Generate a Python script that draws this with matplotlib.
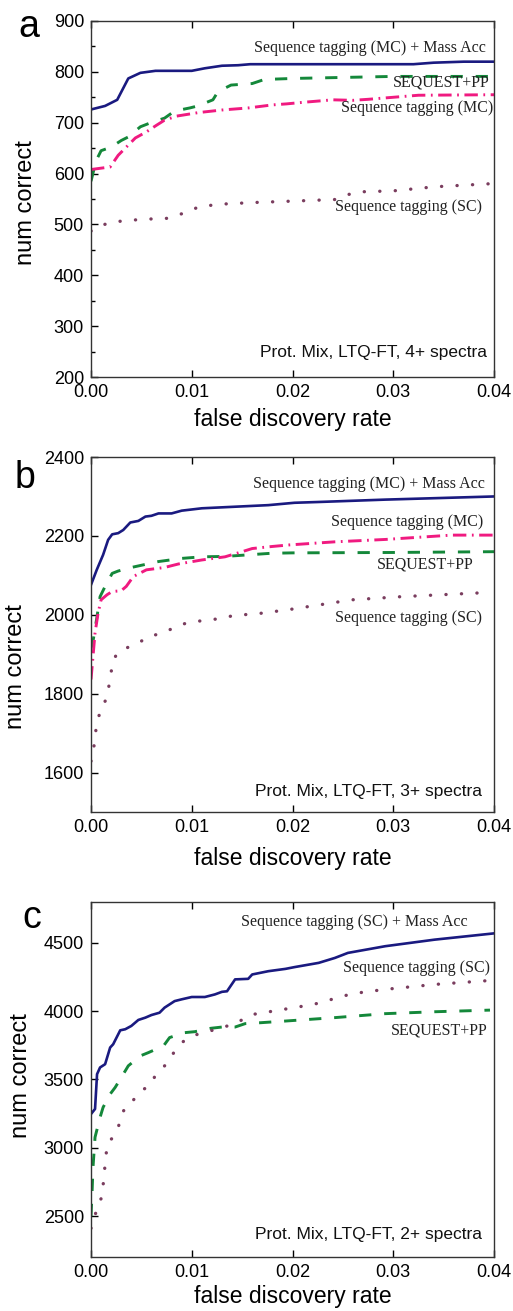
import matplotlib
matplotlib.use('Agg')
import matplotlib.pyplot as plt
from matplotlib.ticker import MultipleLocator

plt.rcParams['font.family'] = 'Liberation Sans'

# colours used in all three panels
NAVY = '#1a1a80'
GREEN = '#14883a'
PINK = '#f01a80'
PLUM = '#7a3d5e'

# --- panel a: 4+ spectra
a_blue_x = [0, 0.0014, 0.0026, 0.0037, 0.0049, 0.0064, 0.0100, 0.0113, 0.0130, 0.0146, 0.0158, 0.0250, 0.0320, 0.0340, 0.0370, 0.0400]
a_blue_y = [726, 733, 745, 787, 798, 802, 802, 807, 812, 813, 815, 815, 815, 818, 820, 820]
a_green_x = [0, 0.0005, 0.0010, 0.0020, 0.0030, 0.0037, 0.0049, 0.0058, 0.0073, 0.0083, 0.0098, 0.0106, 0.0121, 0.0126, 0.0139, 0.0160, 0.0172, 0.0200, 0.0250, 0.0300, 0.0400]
a_green_y = [585, 625, 645, 652, 665, 672, 692, 699, 709, 723, 729, 733, 745, 761, 774, 777, 785, 787, 789, 791, 791]
a_pink_x = [0, 0.0019, 0.0027, 0.0037, 0.0044, 0.0055, 0.0065, 0.0073, 0.0085, 0.0107, 0.0130, 0.0156, 0.0180, 0.0194, 0.0210, 0.0240, 0.0260, 0.0275, 0.0300, 0.0325, 0.0400]
a_pink_y = [608, 613, 636, 656, 670, 682, 695, 705, 713, 720, 725, 729, 735, 737, 740, 745, 744, 746, 750, 754, 755]
a_dot_x = [0, 0.0010, 0.0022, 0.0050, 0.0075, 0.0085, 0.0097, 0.0107, 0.0130, 0.0160, 0.0202, 0.0242, 0.0254, 0.0265, 0.0300, 0.0341, 0.0396]
a_dot_y = [487, 498, 505, 510, 512, 518, 525, 535, 540, 543, 546, 549, 558, 564, 566, 574, 580]

# --- panel b: 3+ spectra
b_blue_x = [0, 0.00057, 0.0012, 0.0017, 0.0021, 0.0027, 0.0032, 0.0039, 0.0047, 0.0054, 0.0060, 0.0067, 0.0080, 0.0090, 0.0110, 0.0143, 0.0176, 0.0202, 0.0226, 0.0292, 0.0400]
b_blue_y = [2076, 2114, 2152, 2190, 2204, 2207, 2215, 2234, 2238, 2249, 2251, 2257, 2257, 2264, 2270, 2274, 2278, 2284, 2286, 2292, 2300]
b_green_x = [0, 0.0002, 0.0006, 0.0009, 0.0014, 0.0021, 0.0027, 0.0040, 0.0067, 0.0090, 0.0110, 0.0133, 0.0156, 0.0179, 0.0200, 0.0300, 0.0400]
b_green_y = [1915, 1933, 1996, 2046, 2072, 2105, 2111, 2120, 2135, 2143, 2147, 2148, 2152, 2156, 2157, 2158, 2160]
b_pink_x = [0, 0.0002, 0.0004, 0.0007, 0.0010, 0.0016, 0.0021, 0.0030, 0.0035, 0.0042, 0.0055, 0.0073, 0.0087, 0.0110, 0.0133, 0.0150, 0.0160, 0.0179, 0.0196, 0.0242, 0.0292, 0.0358, 0.0400]
b_pink_y = [1836, 1895, 1954, 2004, 2038, 2051, 2059, 2061, 2072, 2097, 2114, 2120, 2129, 2139, 2147, 2160, 2168, 2173, 2177, 2185, 2191, 2202, 2202]
b_dot_x = [0, 0.0002, 0.0004, 0.0005, 0.0007, 0.0012, 0.0016, 0.0018, 0.0020, 0.0021, 0.0026, 0.0037, 0.0048, 0.0057, 0.0067, 0.0078, 0.0089, 0.0100, 0.0121, 0.0131, 0.0143, 0.0163, 0.0184, 0.0196, 0.0259, 0.0308, 0.0398]
b_dot_y = [1629, 1659, 1677, 1714, 1739, 1768, 1794, 1823, 1853, 1878, 1903, 1918, 1930, 1945, 1951, 1962, 1975, 1982, 1988, 1992, 1999, 2002, 2009, 2013, 2038, 2046, 2057]

# --- panel c: 2+ spectra
c_blue_x = [0, 0.0004, 0.0006, 0.0009, 0.0014, 0.0019, 0.0022, 0.0029, 0.0034, 0.0040, 0.0047, 0.0054, 0.0060, 0.0068, 0.0073, 0.0083, 0.0090, 0.0100, 0.0113, 0.0123, 0.0130, 0.0135, 0.0143, 0.0156, 0.0160, 0.0176, 0.0193, 0.0202, 0.0226, 0.0242, 0.0255, 0.0292, 0.0341, 0.0400]
c_blue_y = [3247, 3284, 3539, 3588, 3612, 3734, 3758, 3860, 3868, 3892, 3936, 3953, 3972, 3989, 4026, 4074, 4087, 4104, 4104, 4123, 4142, 4146, 4233, 4237, 4269, 4293, 4310, 4323, 4354, 4390, 4427, 4476, 4524, 4570]
c_green_x = [0, 0.0001, 0.0002, 0.0004, 0.0009, 0.0012, 0.0019, 0.0024, 0.0034, 0.0037, 0.0049, 0.0057, 0.0072, 0.0078, 0.0093, 0.0103, 0.0119, 0.0130, 0.0143, 0.0153, 0.0169, 0.0193, 0.0242, 0.0292, 0.0341, 0.0396]
c_green_y = [2500, 2663, 2858, 3077, 3223, 3296, 3393, 3442, 3563, 3600, 3673, 3697, 3746, 3807, 3843, 3850, 3875, 3884, 3884, 3909, 3916, 3928, 3953, 3982, 3996, 4008]
c_dot_x = [0, 0.0007, 0.0011, 0.0012, 0.0013, 0.0014, 0.0015, 0.0017, 0.0022, 0.0027, 0.0030, 0.0034, 0.0042, 0.0050, 0.0059, 0.0064, 0.0071, 0.0078, 0.0083, 0.0090, 0.0100, 0.0118, 0.0141, 0.0161, 0.0181, 0.0221, 0.0259, 0.0292, 0.0341, 0.0396]
c_dot_y = [2410, 2578, 2644, 2724, 2797, 2882, 2955, 3040, 3077, 3150, 3223, 3303, 3349, 3418, 3459, 3532, 3583, 3641, 3709, 3770, 3819, 3855, 3904, 3977, 4001, 4050, 4128, 4160, 4196, 4225]

fdr_ticks = [0.00, 0.01, 0.02, 0.03, 0.04]
fdr_ticklabels = ['0.00', '0.01', '0.02', '0.03', '0.04']

SERIF = 'Liberation Serif'


def solid(ax, x, y):
    ax.plot(x, y, color=NAVY, lw=1.9, solid_joinstyle='round')


def dashed(ax, x, y):
    ax.plot(x, y, color=GREEN, lw=2.1, dashes=(4.2, 4.4))


def dashdot(ax, x, y):
    ax.plot(x, y, color=PINK, lw=2.1, dashes=(4.6, 1.9, 0.6, 1.9))


def dotted(ax, x, y):
    ax.plot(x, y, color=PLUM, lw=2.4, dashes=(0.05, 4.6), dash_capstyle='round')


def style_axes(ax, ylim, major, minor, ylabel_xy, xlabel_y):
    ax.set_xlim(0, 0.04)
    ax.set_ylim(*ylim)
    ax.set_xticks(fdr_ticks)
    ax.set_xticklabels(fdr_ticklabels)
    ax.yaxis.set_major_locator(MultipleLocator(major))
    if minor:
        ax.yaxis.set_minor_locator(MultipleLocator(minor))
    ax.tick_params(which='both', direction='in', labelsize=13, width=1.0, pad=5)
    ax.tick_params(which='major', length=5)
    ax.tick_params(which='minor', length=3)
    ax.tick_params(axis='x', top=True)
    for s in ax.spines.values():
        s.set_linewidth(1.0)
        s.set_color('#333333')
    ax.set_ylabel('num correct', fontsize=17)
    ax.set_xlabel('false discovery rate', fontsize=16.5)
    ax.yaxis.set_label_coords(*ylabel_xy)
    ax.xaxis.set_label_coords(0.5, xlabel_y)


def note(ax, x, y, s, serif=True):
    if serif:
        ax.text(x, y, s, transform=ax.transAxes, ha='right', va='center',
                family=SERIF, fontsize=11.5, color='#222222')
    else:
        ax.text(x, y, s, transform=ax.transAxes, ha='right', va='center',
                fontsize=12.5, color='#111111')


fig = plt.figure(figsize=(5.13, 13.11), dpi=100)

# panel a
ax = fig.add_axes([0.1774, 0.7124, 0.7856, 0.2716])
solid(ax, a_blue_x, a_blue_y)
dashed(ax, a_green_x, a_green_y)
dashdot(ax, a_pink_x, a_pink_y)
dotted(ax, a_dot_x, a_dot_y)
style_axes(ax, (200, 900), 100, 50, (-0.135, 0.49), -0.087)
note(ax, 0.980, 0.924, 'Sequence tagging (MC) + Mass Acc')
note(ax, 0.990, 0.826, 'SEQUEST+PP')
note(ax, 0.998, 0.756, 'Sequence tagging (MC)')
note(ax, 0.970, 0.478, 'Sequence tagging (SC)')
note(ax, 0.983, 0.070, 'Prot. Mix, LTQ-FT, 4+ spectra', serif=False)

# panel b
ax = fig.add_axes([0.1774, 0.3806, 0.7856, 0.2708])
solid(ax, b_blue_x, b_blue_y)
dashed(ax, b_green_x, b_green_y)
dashdot(ax, b_pink_x, b_pink_y)
dotted(ax, b_dot_x, b_dot_y)
style_axes(ax, (1500, 2400), 200, None, (-0.158, 0.41), -0.099)
note(ax, 0.978, 0.924, 'Sequence tagging (MC) + Mass Acc')
note(ax, 0.973, 0.817, 'Sequence tagging (MC)')
note(ax, 0.950, 0.696, 'SEQUEST+PP')
note(ax, 0.970, 0.546, 'Sequence tagging (SC)')
note(ax, 0.970, 0.059, 'Prot. Mix, LTQ-FT, 3+ spectra', serif=False)

# panel c
ax = fig.add_axes([0.1774, 0.0412, 0.7856, 0.2708])
solid(ax, c_blue_x, c_blue_y)
dashed(ax, c_green_x, c_green_y)
dotted(ax, c_dot_x, c_dot_y)
style_axes(ax, (2200, 4800), 500, None, (-0.146, 0.51), -0.080)
note(ax, 0.935, 0.944, 'Sequence tagging (SC) + Mass Acc')
note(ax, 0.990, 0.814, 'Sequence tagging (SC)')
note(ax, 0.983, 0.639, 'SEQUEST+PP')
note(ax, 0.970, 0.062, 'Prot. Mix, LTQ-FT, 2+ spectra', serif=False)

# panel letters
fig.text(29 / 513, 1 - 27 / 1311, 'a', fontsize=27, ha='center', va='center')
fig.text(25 / 513, 1 - 478 / 1311, 'b', fontsize=27, ha='center', va='center')
fig.text(32 / 513, 1 - 918 / 1311, 'c', fontsize=27, ha='center', va='center')

fig.savefig('out.png', dpi=100)
